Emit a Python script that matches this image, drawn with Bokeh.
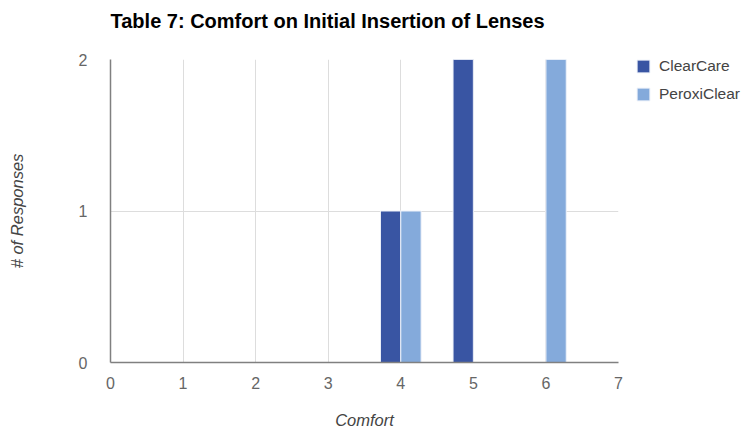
from bokeh.plotting import figure
from bokeh.models import ColumnDataSource, Legend, LegendItem, Range1d, FixedTicker, Title
from bokeh.embed import file_html
from bokeh.resources import INLINE

# Responses per comfort score
comfort = [4, 5, 6]
clearcare = [1, 2, 0]
peroxiclear = [1, 0, 2]

x_ticks = [0, 1, 2, 3, 4, 5, 6, 7]
y_ticks = [0, 1, 2]

series_names = ["ClearCare", "PeroxiClear"]
series_colors = ["#3955a3", "#84aadb"]
bar_width = 0.28
offsets = [-bar_width / 2, bar_width / 2]

FONT = "Liberation Sans"

p = figure(frame_width=508, frame_height=303, output_backend="svg", toolbar_location=None,
           x_range=Range1d(0, 7), y_range=Range1d(0, 2),
           min_border_left=110, min_border_right=126,
           min_border_top=0, min_border_bottom=0)

p.title.text = "Table 7: Comfort on Initial Insertion of Lenses"
p.title.text_font = FONT
p.title.text_font_size = "20px"
p.title.text_font_style = "bold"
p.title.text_color = "#000000"
p.title.offset = 0
p.title.standoff = 14

# blank strip between the heading and the plot frame
p.add_layout(Title(text=" ", text_font_size="10px", standoff=8), "above")

renderers = []
for name, vals, color, off in zip(series_names, [clearcare, peroxiclear], series_colors, offsets):
    xs = [c + off for c, v in zip(comfort, vals) if v > 0]
    ys = [v for v in vals if v > 0]
    src = ColumnDataSource(dict(x=xs, top=ys))
    r = p.vbar(x="x", top="top", bottom=0, width=bar_width, source=src,
               fill_color=color, line_color="#eef2fa", line_width=1)
    renderers.append((name, r))

# axes
p.xaxis.ticker = FixedTicker(ticks=x_ticks)
p.yaxis.ticker = FixedTicker(ticks=y_ticks)
for ax in (p.xaxis[0], p.yaxis[0]):
    ax.major_tick_line_color = None
    ax.minor_tick_line_color = None
    ax.axis_line_color = "#808080"
    ax.axis_line_width = 1.5
    ax.major_label_text_font = FONT
    ax.major_label_text_font_size = "16px"
    ax.major_label_text_color = "#666666"
    ax.axis_label_text_font = FONT
    ax.axis_label_text_font_size = "16.5px"
    ax.axis_label_text_font_style = "italic"
    ax.axis_label_text_color = "#444444"

p.xaxis.axis_label = "Comfort"
p.xaxis.major_label_standoff = 8
p.xaxis.axis_label_standoff = 19
p.yaxis.axis_label = "# of Responses"
p.yaxis.major_label_standoff = 17
p.yaxis.axis_label_standoff = 50

p.xgrid.grid_line_color = "#dddddd"
p.ygrid.grid_line_color = "#dddddd"
p.outline_line_color = None

legend = Legend(items=[LegendItem(label=n, renderers=[r]) for n, r in renderers],
                location=(17, 259), orientation="vertical",
                label_text_font=FONT, label_text_font_size="15.5px",
                label_text_color="#444444", glyph_width=16, glyph_height=16,
                label_height=16, spacing=10, padding=0, margin=0, label_standoff=8,
                border_line_color=None, background_fill_alpha=0)
p.add_layout(legend, "right")

open("out.html", "w").write(file_html(p, INLINE))
